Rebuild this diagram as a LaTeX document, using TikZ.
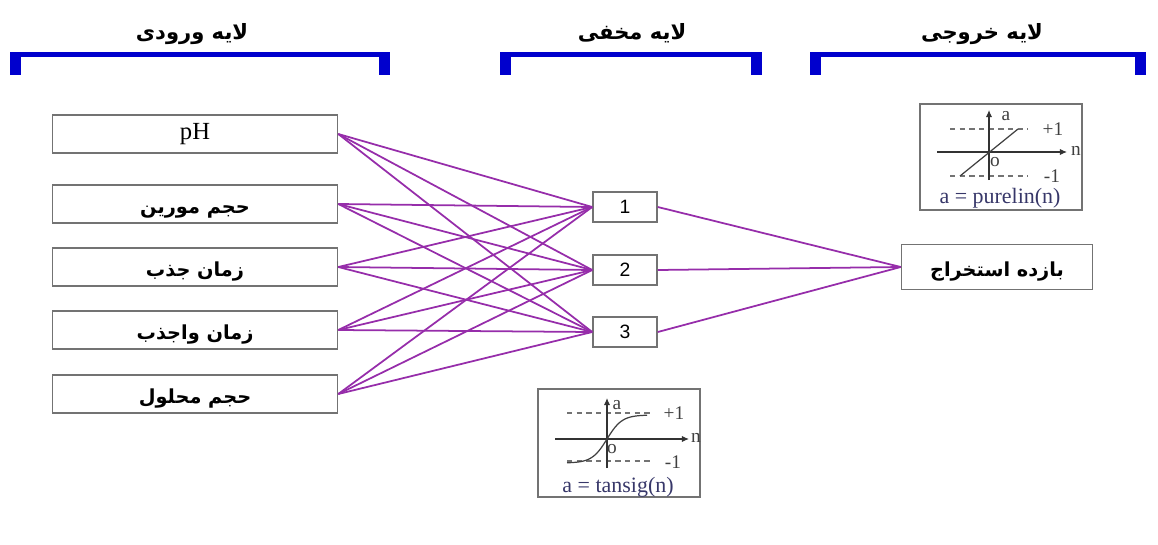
\documentclass[tikz,border=0pt]{standalone}
\usepackage{fontspec}
\setmainfont{Liberation Serif}
\newfontfamily\farsi[Script=Arabic]{DejaVu Sans}
\newfontfamily\arialfont{Liberation Sans}
\TeXXeTstate=1
\usetikzlibrary{arrows.meta}
\definecolor{barblue}{RGB}{0,0,205}
\definecolor{linkpurple}{RGB}{150,45,170}
\definecolor{boxgray}{RGB}{115,115,115}
\definecolor{capblue}{RGB}{55,55,105}
\newcommand{\fa}[1]{{\farsi\bfseries\beginR #1\endR}}

\begin{document}
\begin{tikzpicture}[x=0.02cm,y=-0.02cm,
    inbox/.style={draw=boxgray,line width=0.9pt,minimum width=5.7cm,
      minimum height=0.76cm,inner sep=0pt,font=\fontsize{11}{13}\selectfont},
    fatext/.style={text height=10.5pt,text depth=0pt},
    hidbox/.style={draw=boxgray,line width=0.9pt,minimum width=1.28cm,
      minimum height=0.6cm,inner sep=0pt,font=\arialfont\fontsize{11}{13}\selectfont},
    actbox/.style={draw=boxgray,line width=0.9pt,minimum width=3.24cm,
      minimum height=2.16cm,inner sep=0pt},
    header/.style={fatext,font=\fontsize{12}{14}\selectfont},
    link/.style={draw=linkpurple,line width=1pt},
    axis/.style={draw=black!80,line width=0.6pt,-{Latex[length=4pt,width=3.5pt]}},
    level/.style={draw=black!55,line width=0.6pt,dash pattern=on 3pt off 2.5pt},
    tick/.style={font=\fontsize{11}{12}\selectfont,inner sep=0pt,text=black!75}]
  \useasboundingbox (0,0) rectangle (1158,544);

  % layer titles and brackets
  \node[header] (hdin) at (192,30) {\fa{لایه ورودی}};
  \node[header] (hdhid) at (632,30) {\fa{لایه مخفی}};
  \node[header] (hdout) at (982,30) {\fa{لایه خروجی}};
  \foreach \xa/\xb in {10/390, 500/762, 810/1146}{
    \fill[barblue] (\xa,52) rectangle (\xb,57);
    \fill[barblue] (\xa,52) rectangle (\xa+11,75);
    \fill[barblue] (\xb-11,52) rectangle (\xb,75);
  }

  % input layer
  \node[inbox,font=\fontsize{14}{16}\selectfont] (in1) at (195,134) {pH};
  \node[inbox,fatext] (in2) at (195,204) {\fa{حجم مورین}};
  \node[inbox,fatext] (in3) at (195,267) {\fa{زمان جذب}};
  \node[inbox,fatext] (in4) at (195,330) {\fa{زمان واجذب}};
  \node[inbox,fatext] (in5) at (195,394) {\fa{حجم محلول}};

  % hidden layer
  \node[hidbox] (hid1) at (625,207) {1};
  \node[hidbox] (hid2) at (625,270) {2};
  \node[hidbox] (hid3) at (625,332) {3};

  % output layer
  \node[inbox,fatext,minimum width=3.82cm,minimum height=0.9cm] (out) at (997,267) {\fa{بازده استخراج}};

  % connections
  \foreach \i in {1,...,5}
    \foreach \j in {1,2,3}
      \draw[link] (in\i.east) -- (hid\j.west);
  \foreach \j in {1,2,3}
    \draw[link] (hid\j.east) -- (out.west);

  % tansig transfer function
  \node[actbox] (tansig) at (619,443) {};
  \draw[level] (567,413) -- (653,413);
  \draw[level] (567,461) -- (650,461);
  \draw[axis] (555,439) -- (689,439);
  \draw[axis] (607,468) -- (607,398);
  \draw[black!75,line width=0.7pt] plot[domain=-40:40,samples=41,smooth]
    ({607+\x},{439-24*tanh(\x/15)});
  \node[tick] at (617,405) {a};
  \node[tick] at (674,413) {+1};
  \node[tick] at (696,438) {n};
  \node[tick] at (612,449) {o};
  \node[tick] at (673,462) {-1};
  \node[tick,text=capblue,font=\fontsize{12.5}{14}\selectfont] (tcap) at (618,487) {a = tansig(n)};

  % purelin transfer function
  \node[actbox,minimum height=2.12cm] (purelin) at (1001,157) {};
  \draw[level] (950,129) -- (1028,129);
  \draw[level] (950,176) -- (1028,176);
  \draw[axis] (937,152) -- (1067,152);
  \draw[axis] (989,180) -- (989,110);
  \draw[black!75,line width=0.7pt] (960,176) -- (1018,129);
  \node[tick] at (1006,116) {a};
  \node[tick] at (1053,129) {+1};
  \node[tick] at (1076,151) {n};
  \node[tick] at (995,162) {o};
  \node[tick] at (1052,176) {-1};
  \node[tick,text=capblue,font=\fontsize{12.5}{14}\selectfont] (pcap) at (1000,198) {a = purelin(n)};
\end{tikzpicture}
\end{document}
